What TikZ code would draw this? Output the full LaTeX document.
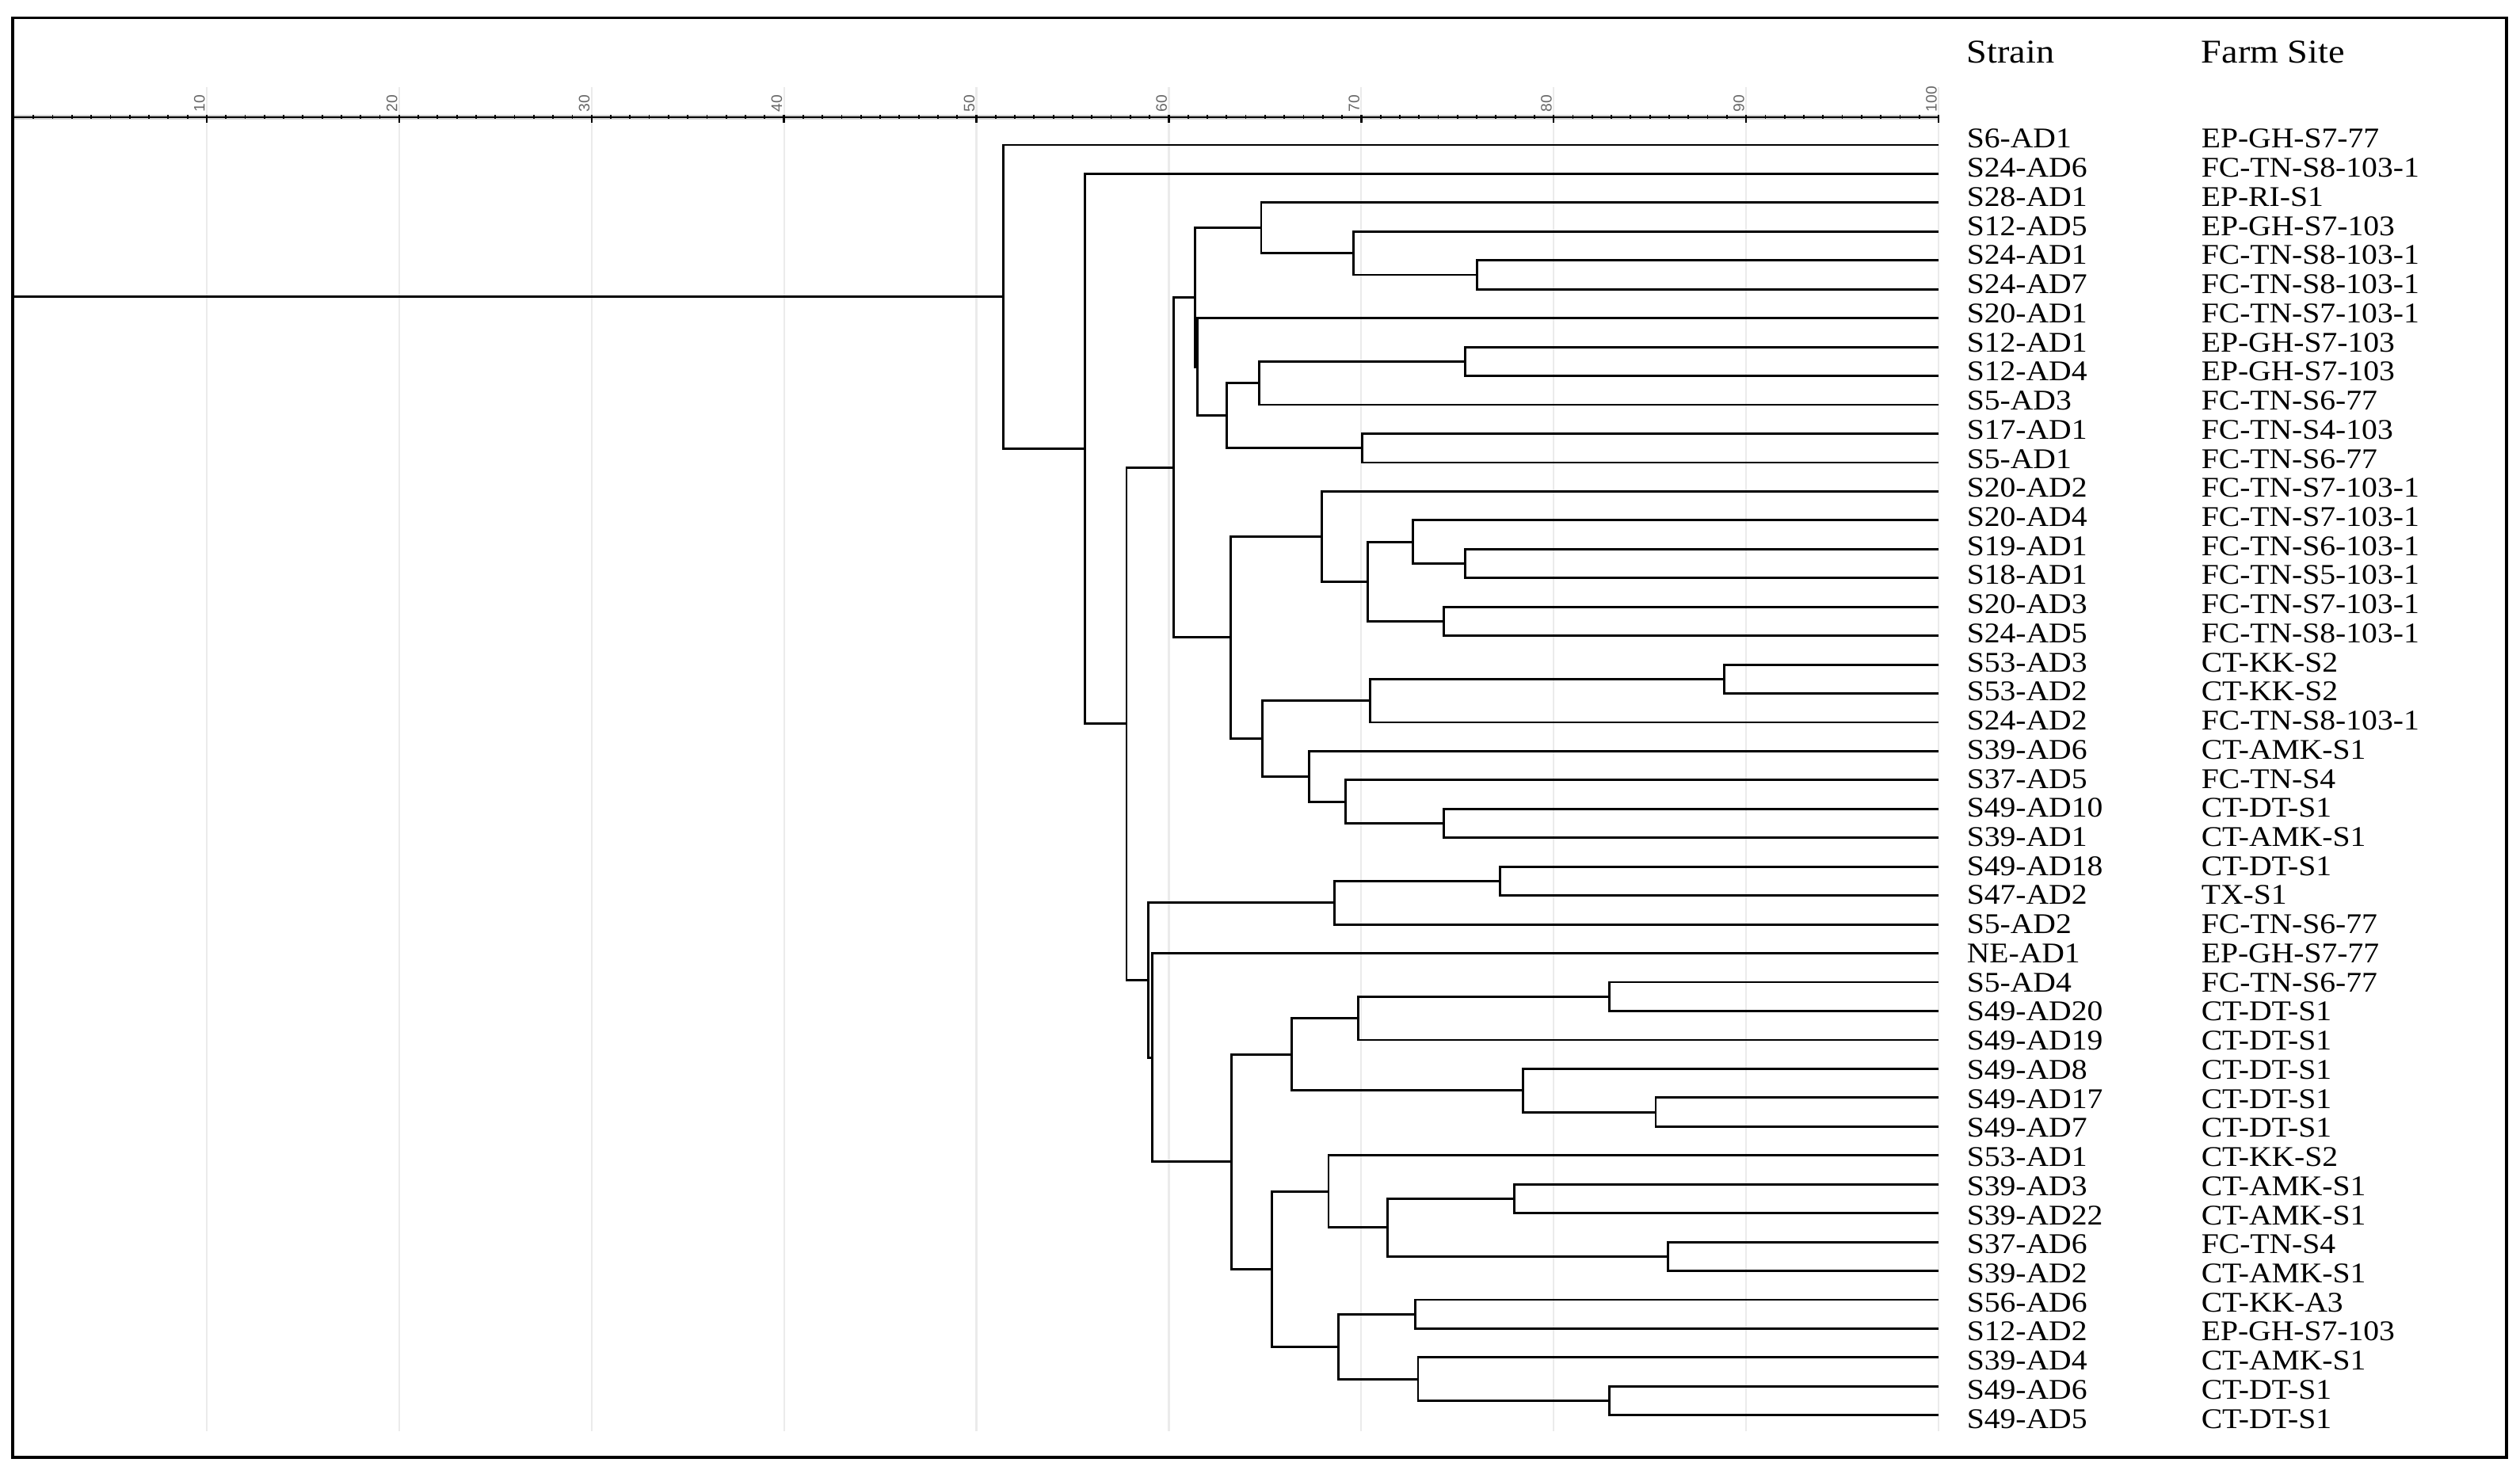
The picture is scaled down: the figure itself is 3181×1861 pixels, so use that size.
\documentclass[tikz,border=0pt]{standalone}
\usepackage{fontspec}
\setmainfont{Liberation Serif}
\newfontfamily\labfont{Liberation Serif}[FakeStretch=1.1]
\newfontfamily\axfont{Liberation Sans}
\usetikzlibrary{calc}
\newcommand\dn[4]{%
  \path let \p1=($(#3)!.5!(#4)$) in coordinate (#1) at ({(18+24.29*#2)*0.25pt},\y1);
  \draw[branch] (#3) -| (#1) |- (#4);}
\begin{document}
\begin{tikzpicture}[x=0.25pt,y=-0.25pt,
  branch/.style={line width=0.72pt, line join=miter},
  gridln/.style={line width=0.55pt, draw=black!8},
  lab/.style={font=\labfont\fontsize{9}{10}\selectfont, anchor=base west, inner sep=0pt},
  head/.style={font=\labfont\fontsize{10.5}{12}\selectfont, anchor=base west, inner sep=0pt},
  axlab/.style={font=\axfont\fontsize{4.8}{5.2}\selectfont, text=black!60, rotate=90, anchor=base west, inner sep=0pt}]
\useasboundingbox (0,0) rectangle (3181,1861);
% grid lines
\foreach \v in {10,20,...,100} \draw[gridln] ({18+24.29*\v},110) -- ({18+24.29*\v},1807);
% axis
\draw[line width=1.3pt, black!18] (18,148) -- (2447,148);
\draw[line width=0.6pt] (18,148) -- (2447,148);
\foreach \v in {1,...,99} \draw[line width=0.45pt] ({18+24.29*\v},145.5) -- ({18+24.29*\v},150.5);
\foreach \v in {10,20,...,100} {
  \draw[line width=0.6pt] ({18+24.29*\v},145) -- ({18+24.29*\v},155);
  \node[axlab] (t\v) at ({18+24.29*\v-2.5},142) {\v};
}
% headers
\node[head] (hs) at (2482,80) {Strain};
\node[head] (hf) at (2778,80) {Farm Site};
% leaves
\foreach \s/\f [count=\i from 0] in {S6-AD1/EP-GH-S7-77, S24-AD6/FC-TN-S8-103-1, S28-AD1/EP-RI-S1, S12-AD5/EP-GH-S7-103, S24-AD1/FC-TN-S8-103-1, S24-AD7/FC-TN-S8-103-1, S20-AD1/FC-TN-S7-103-1, S12-AD1/EP-GH-S7-103, S12-AD4/EP-GH-S7-103, S5-AD3/FC-TN-S6-77, S17-AD1/FC-TN-S4-103, S5-AD1/FC-TN-S6-77, S20-AD2/FC-TN-S7-103-1, S20-AD4/FC-TN-S7-103-1, S19-AD1/FC-TN-S6-103-1, S18-AD1/FC-TN-S5-103-1, S20-AD3/FC-TN-S7-103-1, S24-AD5/FC-TN-S8-103-1, S53-AD3/CT-KK-S2, S53-AD2/CT-KK-S2, S24-AD2/FC-TN-S8-103-1, S39-AD6/CT-AMK-S1, S37-AD5/FC-TN-S4, S49-AD10/CT-DT-S1, S39-AD1/CT-AMK-S1, S49-AD18/CT-DT-S1, S47-AD2/TX-S1, S5-AD2/FC-TN-S6-77, NE-AD1/EP-GH-S7-77, S5-AD4/FC-TN-S6-77, S49-AD20/CT-DT-S1, S49-AD19/CT-DT-S1, S49-AD8/CT-DT-S1, S49-AD17/CT-DT-S1, S49-AD7/CT-DT-S1, S53-AD1/CT-KK-S2, S39-AD3/CT-AMK-S1, S39-AD22/CT-AMK-S1, S37-AD6/FC-TN-S4, S39-AD2/CT-AMK-S1, S56-AD6/CT-KK-A3, S12-AD2/EP-GH-S7-103, S39-AD4/CT-AMK-S1, S49-AD6/CT-DT-S1, S49-AD5/CT-DT-S1} {
  \coordinate (l\i) at (2447,{183+36.45*\i});
  \node[lab] (s\i) at (2482,{187+36.73*\i}) {\s};
  \node[lab] (f\i) at (2778,{187+36.73*\i}) {\f};
}
% tree
\dn{n45}{76.0}{l4}{l5}
\dn{n3}{69.6}{l3}{n45}
\dn{nF}{64.8}{l2}{n3}
\dn{n78}{75.4}{l7}{l8}
\dn{nHb}{64.7}{n78}{l9}
\dn{n1011}{70.05}{l10}{l11}
\dn{nH}{63.0}{nHb}{n1011}
\dn{nG}{61.5}{l6}{nH}
\dn{nE}{61.35}{nF}{nG}
\dn{n1415}{75.4}{l14}{l15}
\dn{n13}{72.7}{l13}{n1415}
\dn{n1617}{74.3}{l16}{l17}
\dn{nMb}{70.35}{n13}{n1617}
\dn{nM}{67.95}{l12}{nMb}
\dn{n1819}{88.85}{l18}{l19}
\dn{nP}{70.45}{n1819}{l20}
\dn{n2324}{74.3}{l23}{l24}
\dn{nQc}{69.2}{l22}{n2324}
\dn{nQb}{67.3}{l21}{nQc}
\dn{nQ}{64.85}{nP}{nQb}
\dn{nR}{63.2}{nM}{nQ}
\dn{nD}{60.25}{nE}{nR}
\dn{n2526}{77.2}{l25}{l26}
\dn{nJ}{68.6}{n2526}{l27}
\dn{n2930}{82.9}{l29}{l30}
\dn{nSb}{69.85}{n2930}{l31}
\dn{n3334}{85.3}{l33}{l34}
\dn{nSc}{78.4}{l32}{n3334}
\dn{nS}{66.4}{nSb}{nSc}
\dn{n3637}{77.95}{l36}{l37}
\dn{n3839}{85.95}{l38}{l39}
\dn{nTc}{71.35}{n3637}{n3839}
\dn{nTb}{68.3}{l35}{nTc}
\dn{n4041}{72.8}{l40}{l41}
\dn{n4344}{82.9}{l43}{l44}
\dn{nUc}{72.95}{l42}{n4344}
\dn{nUb}{68.8}{n4041}{nUc}
\dn{nT}{65.35}{nTb}{nUb}
\dn{nL}{63.25}{nS}{nT}
\dn{nK}{59.15}{l28}{nL}
\dn{nI}{58.95}{nJ}{nK}
\dn{nC}{57.8}{nD}{nI}
\dn{nB}{55.65}{l1}{nC}
\dn{nA}{51.4}{l0}{nB}
\path let \p1=(nA) in coordinate (root) at ({18*0.25pt},\y1);
\draw[branch] (root) -- (nA);
% frame
\draw[line width=0.85pt] (16,22.5) rectangle (3164,1840);
\end{tikzpicture}
\end{document}
